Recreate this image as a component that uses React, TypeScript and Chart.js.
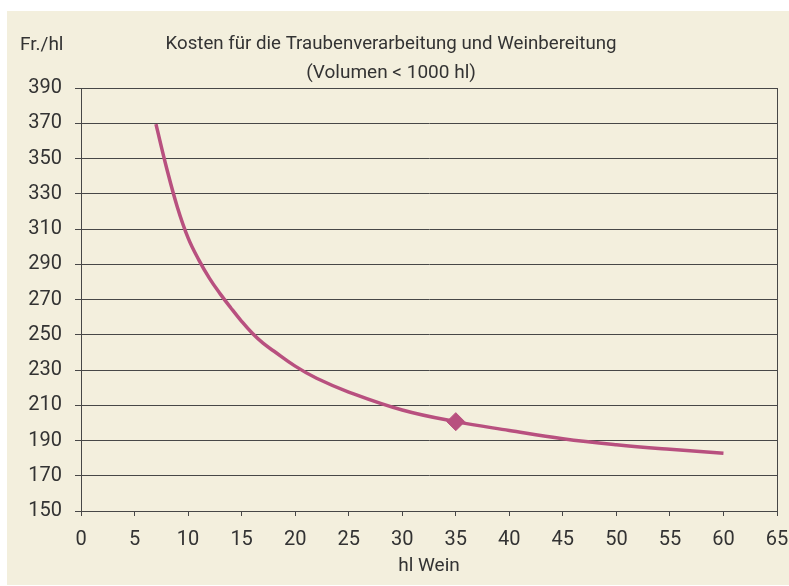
import React, { useEffect, useRef } from 'react';
import { Chart, registerables } from 'chart.js';

Chart.register(...registerables);

// ---- data ----
const volumes = [7, 8, 9, 10, 11, 12, 13, 14, 15, 16, 17, 18, 20, 22, 25, 30, 35, 40, 45, 50, 55, 60];
const costs = [369.5, 344.5, 322.4, 305, 292.5, 282, 273.2, 265.2, 257.6, 250.8, 245.2, 240.8, 232.2, 225.3, 217.5, 207.3, 200.7, 195.7, 191, 187.6, 185, 182.8];
const highlightVolume = 35;

const yMin = 150;
const yMax = 390;
const yStep = 20;
const xMin = 0;
const xMax = 65;
const xStep = 5;

const titleLines = ['Kosten für die Traubenverarbeitung und Weinbereitung', '(Volumen < 1000 hl)'];
const yUnitLabel = 'Fr./hl';
const xAxisTitle = 'hl Wein';

const BG = '#f3efdd';
const LINE = '#b8507f';
const GRID = '#474747';
const TEXT = '#333333';
const FONT = 'Roboto, "Noto Sans", sans-serif';

export default function App() {
  const ref = useRef<HTMLCanvasElement | null>(null);

  useEffect(() => {
    document.body.style.margin = '0';
    const canvas = ref.current;
    if (!canvas) return;

    const decor = {
      id: 'decor',
      beforeDraw(chart: any) {
        const { ctx, width, height } = chart;
        ctx.save();
        ctx.fillStyle = BG;
        ctx.fillRect(0, 0, width, height);
        ctx.restore();
      },
      afterDraw(chart: any) {
        const { ctx, chartArea } = chart;
        ctx.save();
        ctx.strokeStyle = GRID;
        ctx.lineWidth = 1;
        const l = Math.round(chartArea.left) + 0.5;
        const t = Math.round(chartArea.top) + 0.5;
        const r = Math.round(chartArea.right) + 0.5;
        const b = Math.round(chartArea.bottom) + 0.5;
        ctx.strokeRect(l, t, r - l, b - t);
        ctx.fillStyle = TEXT;
        ctx.textBaseline = 'alphabetic';
        ctx.font = `19px ${FONT}`;
        ctx.textAlign = 'left';
        ctx.fillText(yUnitLabel, 13, 38.5, 44);
        ctx.textAlign = 'center';
        ctx.fillText(titleLines[0], 384, 37.5, 451);
        ctx.fillText(titleLines[1], 384, 66.5, 181);
        ctx.restore();
      },
    };

    const chart = new Chart(canvas, {
      type: 'line',
      data: {
        datasets: [
          {
            data: volumes.map((v, i) => ({ x: v, y: costs[i] })),
            borderColor: LINE,
            backgroundColor: LINE,
            borderWidth: 3.5,
            tension: 0.4,
            pointStyle: 'rectRot',
            pointRadius: volumes.map((v) => (v === highlightVolume ? 9 : 0)),
            pointHoverRadius: volumes.map((v) => (v === highlightVolume ? 9 : 0)),
            pointBorderWidth: 1,
            pointBackgroundColor: LINE,
            pointBorderColor: LINE,
            fill: false,
          },
        ],
      },
      options: {
        animation: false,
        responsive: false,
        devicePixelRatio: 1,
        layout: { padding: { top: 77, right: 12, left: 0, bottom: 0 } },
        plugins: {
          legend: { display: false },
          title: { display: false },
          tooltip: { enabled: false },
        },
        scales: {
          x: {
            type: 'linear',
            min: xMin,
            max: xMax,
            afterFit: (s: any) => {
              s.height = 74;
              s.paddingLeft = 0;
              s.paddingRight = 0;
            },
            ticks: {
              stepSize: xStep,
              color: TEXT,
              font: { family: FONT, size: 20 },
              padding: 12,
              maxRotation: 0,
            },
            grid: {
              drawOnChartArea: false,
              drawTicks: true,
              tickLength: 5,
              color: GRID,
            },
            border: { display: true, color: GRID, width: 1 },
            title: {
              display: true,
              text: xAxisTitle,
              color: TEXT,
              font: { family: FONT, size: 19 },
              padding: { top: 0, bottom: 7 },
            },
          },
          y: {
            type: 'linear',
            min: yMin,
            max: yMax,
            afterFit: (s: any) => {
              s.width = 74;
              s.paddingTop = 0;
              s.paddingBottom = 0;
            },
            ticks: {
              stepSize: yStep,
              color: TEXT,
              font: { family: FONT, size: 20 },
              padding: 13,
            },
            grid: {
              drawOnChartArea: true,
              drawTicks: true,
              tickLength: 6,
              color: GRID,
              lineWidth: 1,
            },
            border: { display: true, color: GRID, width: 1 },
          },
        },
      },
      plugins: [decor],
    } as any);

    return () => chart.destroy();
  }, []);

  return (
    <div style={{ position: 'fixed', left: 0, top: 0, width: 789, height: 586, background: '#ffffff' }}>
      <canvas
        ref={ref}
        width={782}
        height={574}
        style={{ position: 'absolute', left: 7, top: 11, width: 782, height: 574 }}
      />
    </div>
  );
}
